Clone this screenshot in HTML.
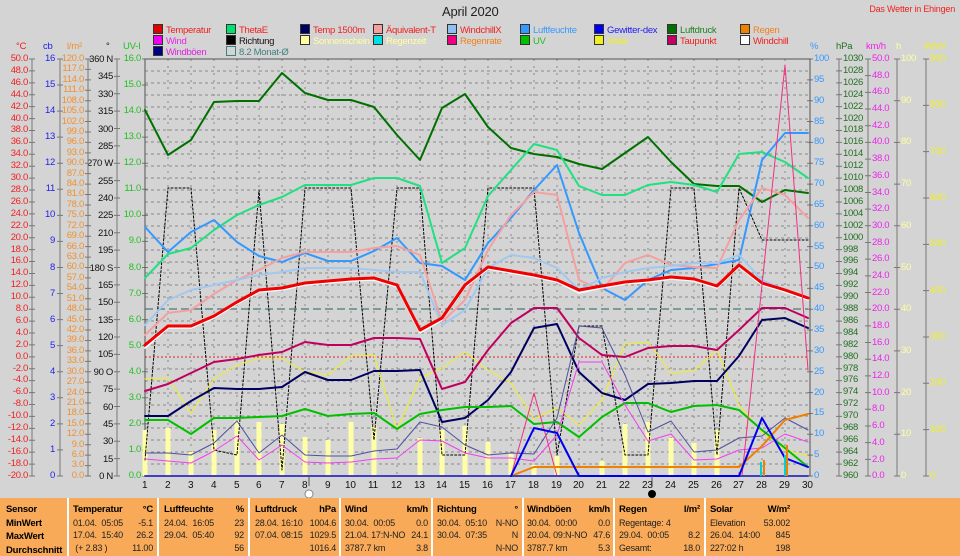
<!DOCTYPE html>
<html><head><meta charset="utf-8"><style>
html,body{margin:0;width:960px;height:556px;overflow:hidden}
body{background:#d4d4d4;position:relative;font-family:"Liberation Sans",sans-serif;}
.c{position:absolute;font-size:9.5px;letter-spacing:-0.3px;white-space:pre;}
.r{text-align:right;}
.t{position:absolute;font-size:9.5px;letter-spacing:-0.2px;white-space:nowrap}
.lg{position:absolute;font-size:9.5px;letter-spacing:-0.3px;white-space:nowrap}
.lg i{display:inline-block;width:8px;height:8px;border:1px solid #333;margin-right:3px;vertical-align:-1px}
.tb{position:absolute;left:0;top:498px;width:960px;height:58px;background:#f8aa58;}
.col{position:absolute;top:503px;font-size:9px;letter-spacing:-0.2px;line-height:12.6px;color:#222;white-space:nowrap}
.col b{color:#000;font-size:9.5px}
.col span{float:right}
.sep{position:absolute;top:498px;width:2px;height:58px;background:#fff}
</style></head><body>
<div class="t" style="left:442px;top:4px;font-size:13px;color:#222">April 2020</div>
<div class="t" style="right:5px;top:4px;font-size:9px;color:#f02020">Das Wetter in Ehingen</div>

<div class="lg" style="left:153px;top:24px;color:#f02020"><i style="background:#e00000"></i>Temperatur</div>
<div class="lg" style="left:153px;top:35px;color:#f020f0"><i style="background:#f000f0"></i>Wind</div>
<div class="lg" style="left:153px;top:46px;color:#e020e0"><i style="background:#000080"></i>Windböen</div>
<div class="lg" style="left:226px;top:24px;color:#f02020"><i style="background:#00e070"></i>ThetaE</div>
<div class="lg" style="left:226px;top:35px;color:#111"><i style="background:#000"></i>Richtung</div>
<div class="lg" style="left:226px;top:46px;color:#408080"><i style="background:none;border-color:#408080"></i>8.2 Monat-Ø</div>
<div class="lg" style="left:300px;top:24px;color:#f02020"><i style="background:#000060"></i>Temp 1500m</div>
<div class="lg" style="left:300px;top:35px;color:#ffffa0"><i style="background:#ffffa0"></i>Sonnenschein</div>
<div class="lg" style="left:373px;top:24px;color:#f02020"><i style="background:#f4a0a0"></i>Äquivalent-T</div>
<div class="lg" style="left:373px;top:35px;color:#ffffa0"><i style="background:#00e0e0"></i>Regenzeit</div>
<div class="lg" style="left:447px;top:24px;color:#f02020"><i style="background:#90c0f0"></i>WindchillX</div>
<div class="lg" style="left:447px;top:35px;color:#f08020"><i style="background:#f00080"></i>Regenrate</div>
<div class="lg" style="left:520px;top:24px;color:#3399ff"><i style="background:#3399ff"></i>Luftfeuchte</div>
<div class="lg" style="left:520px;top:35px;color:#20c020"><i style="background:#00c000"></i>UV</div>
<div class="lg" style="left:594px;top:24px;color:#2020f0"><i style="background:#0000f0"></i>Gewitter-dex</div>
<div class="lg" style="left:594px;top:35px;color:#f0f020"><i style="background:#f0f020"></i>Solar</div>
<div class="lg" style="left:667px;top:24px;color:#208020"><i style="background:#007000"></i>Luftdruck</div>
<div class="lg" style="left:667px;top:35px;color:#f02020"><i style="background:#c00060"></i>Taupunkt</div>
<div class="lg" style="left:740px;top:24px;color:#f08020"><i style="background:#f08000"></i>Regen</div>
<div class="lg" style="left:740px;top:35px;color:#f02020"><i style="background:#fff"></i>Windchill</div>

<div class="t" style="left:16px;top:41px;color:#f02020">°C</div>
<div class="t" style="left:43px;top:41px;color:#2020f0">cb</div>
<div class="t" style="left:67px;top:41px;color:#f09030">l/m²</div>
<div class="t" style="left:106px;top:41px;color:#111">°</div>
<div class="t" style="left:123px;top:41px;color:#20c020">UV-I</div>
<div class="t" style="left:810px;top:41px;color:#3399ff">%</div>
<div class="t" style="left:836px;top:41px;color:#207020">hPa</div>
<div class="t" style="left:866px;top:41px;color:#f020f0">km/h</div>
<div class="t" style="left:896px;top:41px;color:#ffffa0">h</div>
<div class="t" style="left:924px;top:41px;color:#f0f020">W/m²</div>

<div class="c r" style="right:932px;top:53px;line-height:11.914px;color:#f02020">50.0
48.0
46.0
44.0
42.0
40.0
38.0
36.0
34.0
32.0
30.0
28.0
26.0
24.0
22.0
20.0
18.0
16.0
14.0
12.0
10.0
8.0
6.0
4.0
2.0
0.0
-2.0
-4.0
-6.0
-8.0
-10.0
-12.0
-14.0
-16.0
-18.0
-20.0</div>
<div class="c r" style="right:905px;top:46px;line-height:26.06px;color:#2020f0">16
15
14
13
12
11
10
9
8
7
6
5
4
3
2
1
0</div>
<div class="c r" style="right:876px;top:54px;line-height:10.425px;color:#f09030">120.0
117.0
114.0
111.0
108.0
105.0
102.0
99.0
96.0
93.0
90.0
87.0
84.0
81.0
78.0
75.0
72.0
69.0
66.0
63.0
60.0
57.0
54.0
51.0
48.0
45.0
42.0
39.0
36.0
33.0
30.0
27.0
24.0
21.0
18.0
15.0
12.0
9.0
6.0
3.0
0.0</div>
<div class="c r" style="right:847px;top:51px;line-height:17.375px;color:#111">360 N
345
330
315
300
285
270 W
255
240
225
210
195
180 S
165
150
135
120
105
90 O
75
60
45
30
15
0 N</div>
<div class="c r" style="right:819px;top:46px;line-height:26.06px;color:#20c020">16.0
15.0
14.0
13.0
12.0
11.0
10.0
9.0
8.0
7.0
6.0
5.0
4.0
3.0
2.0
1.0
0.0</div>
<div class="c" style="left:814px;top:49px;line-height:20.85px;color:#3399ff">100
95
90
85
80
75
70
65
60
55
50
45
40
35
30
25
20
15
10
5
0</div>
<div class="c" style="left:843px;top:53px;line-height:11.914px;color:#207020">1030
1028
1026
1024
1022
1020
1018
1016
1014
1012
1010
1008
1006
1004
1002
1000
998
996
994
992
990
988
986
984
982
980
978
976
974
972
970
968
966
964
962
960</div>
<div class="c" style="left:872px;top:51px;line-height:16.68px;color:#f020f0">50.0
48.0
46.0
44.0
42.0
40.0
38.0
36.0
34.0
32.0
30.0
28.0
26.0
24.0
22.0
20.0
18.0
16.0
14.0
12.0
10.0
8.0
6.0
4.0
2.0
0.0</div>
<div class="c" style="left:901px;top:38px;line-height:41.7px;color:#ffffa0">100
90
80
70
60
50
40
30
20
10
0</div>
<div class="c" style="left:930px;top:36px;line-height:46.33px;color:#f0f020">900
800
700
600
500
400
300
200
100
0</div>

<svg width="960" height="556" style="position:absolute;left:0;top:0" fill="none">
<g stroke="#777" stroke-width="1">
<line x1="32" y1="59" x2="32" y2="476"/><line x1="60" y1="59" x2="60" y2="476"/><line x1="88" y1="59" x2="88" y2="476"/><line x1="117" y1="59" x2="117" y2="476"/>
<line x1="839" y1="59" x2="839" y2="476"/><line x1="868" y1="59" x2="868" y2="476"/><line x1="897" y1="59" x2="897" y2="476"/><line x1="926" y1="59" x2="926" y2="476"/>
</g>
<g stroke="#777" stroke-width="6">
<line x1="32" y1="58.5" x2="32" y2="477" stroke-dasharray="1 10.914"/>
<line x1="60" y1="58.5" x2="60" y2="477" stroke-dasharray="1 25.06"/>
<line x1="88" y1="58.5" x2="88" y2="477" stroke-dasharray="1 9.425"/>
<line x1="117" y1="58.5" x2="117" y2="477" stroke-dasharray="1 16.375"/>
<line x1="145" y1="58.5" x2="145" y2="477" stroke-dasharray="1 25.06"/>
<line x1="810" y1="58.5" x2="810" y2="477" stroke-dasharray="1 19.85"/>
<line x1="839" y1="58.5" x2="839" y2="477" stroke-dasharray="1 10.914"/>
<line x1="868" y1="58.5" x2="868" y2="477" stroke-dasharray="1 15.68"/>
<line x1="897" y1="58.5" x2="897" y2="477" stroke-dasharray="1 40.7"/>
<line x1="926" y1="58.5" x2="926" y2="477" stroke-dasharray="1 45.33"/>
</g>
<g stroke="#888" stroke-width="1" stroke-dasharray="3 3">
<path d="M145 71H808M145 83H808M145 95H808M145 107H808M145 119H808M145 130H808M145 142H808M145 154H808M145 166H808M145 178H808M145 190H808M145 202H808M145 214H808M145 226H808M145 238H808M145 250H808M145 262H808M145 273H808M145 285H808M145 297H808M145 321H808M145 333H808M145 345H808M145 369H808M145 381H808M145 393H808M145 405H808M145 416H808M145 428H808M145 440H808M145 452H808M145 464H808"/>
<path d="M168 59V476M191 59V476M214 59V476M237 59V476M259 59V476M282 59V476M305 59V476M328 59V476M351 59V476M374 59V476M397 59V476M420 59V476M442 59V476M465 59V476M488 59V476M511 59V476M534 59V476M557 59V476M579 59V476M602 59V476M625 59V476M648 59V476M671 59V476M694 59V476M717 59V476M739 59V476M762 59V476M785 59V476" stroke-dasharray="2 5"/>
</g>
<line x1="145" y1="309" x2="808" y2="309" stroke="#608888" stroke-width="1.5" stroke-dasharray="8 4"/>
<line x1="145" y1="357" x2="808" y2="357" stroke="#e02020" stroke-width="1" stroke-dasharray="2 2"/>
<rect x="145" y="59" width="665" height="417" stroke="#555" stroke-width="1"/>
<g stroke="#ffffa8" stroke-width="5">
<path d="M145 430V476M168 428V476M191 452V476M214 430V476M237 421V476M259 422V476M282 424V476M305 437V476M328 440V476M351 422V476M374 425V476M420 438V476M442 430V476M465 426V476M488 442V476M511 453V476M534 465V476M557 456V476M602 461V476M625 424V476M648 422V476M671 438V476M694 443V476M717 430V476"/>
</g>
<g stroke-linejoin="round" stroke-linecap="round">
<polyline stroke="#000" stroke-width="1" stroke-dasharray="2 2" points="145,460 168,188 191,188 214,450 237,455 259,190 282,470 305,188 328,188 351,188 374,440 397,188 420,188 442,455 465,455 488,188 511,188 534,188 557,455 579,326 602,326 625,455 648,455 671,188 694,188 717,455 739,188 762,240 808,240"/>
<polyline stroke="#007000" stroke-width="2" points="145,110 168,155 191,140 214,102 237,101 259,101 282,73 305,93 328,100 351,100 374,107 397,135 420,160 442,108 465,94 488,127 511,148 534,154 557,157 579,164 602,169 625,153 648,137 671,162 694,184 717,186 739,186 762,202 785,190 808,193"/>
<polyline stroke="#20e080" stroke-width="2" points="145,278 168,254 191,248 214,230 237,215 259,205 282,197 305,185 328,185 351,185 374,178 397,178 420,186 442,263 465,248 488,196 511,170 534,144 557,150 579,186 602,195 625,195 648,185 671,182 694,185 717,192 739,154 762,152 785,162 808,178"/>
<polyline stroke="#3399ff" stroke-width="2" points="145,227 168,252 191,232 214,220 237,242 259,256 282,262 305,253 328,261 351,261 374,251 397,238 420,263 442,266 465,280 488,243 511,218 534,190 557,165 579,233 602,288 625,300 648,280 671,270 694,268 717,264 739,260 762,160 785,133 808,133"/>
<polyline stroke="#f4a0a0" stroke-width="2" points="145,335 168,313 191,310 214,294 237,280 259,270 282,258 305,252 328,252 351,252 374,248 397,246 420,255 442,322 465,300 488,250 511,215 534,192 557,195 579,280 602,290 625,263 648,255 671,265 694,267 717,268 739,220 762,188 785,195 808,218"/>
<polyline stroke="#a0c8f0" stroke-width="2" points="145,325 168,300 191,290 214,285 237,280 259,275 282,272 305,268 328,268 351,268 374,270 397,272 420,272 442,325 465,310 488,268 511,255 534,258 557,268 579,290 602,278 625,272 648,268 671,266 694,263 717,263 739,255 762,280 785,290 808,298"/>
<polyline stroke="#ffffff" stroke-width="1.5" points="145,348 168,328 191,328 214,318 237,304 259,292 282,290 305,285 328,283 351,281 374,280 397,287 420,333 442,320 465,287 488,269 511,273 534,277 557,282 579,293 602,288 625,284 648,282 671,279 694,281 717,288 739,267 762,285 785,292 808,300"/>
<polyline stroke="#f00000" stroke-width="3" points="145,345 168,326 191,326 214,316 237,302 259,290 282,288 305,283 328,281 351,279 374,278 397,285 420,330 442,318 465,285 488,267 511,271 534,275 557,280 579,290 602,286 625,282 648,280 671,277 694,279 717,286 739,265 762,283 785,290 808,298"/>
<polyline stroke="#f0f020" stroke-width="1" points="145,379 168,378 191,413 214,379 237,365 259,358 282,358 305,372 328,375 351,356 374,355 397,430 420,378 442,368 465,352 488,370 511,383 534,419 557,408 579,425 602,400 625,344 648,342 671,373 694,371 717,350 739,405 762,432 785,450 808,456"/>
<polyline stroke="#c00060" stroke-width="2" points="145,391 168,384 191,373 214,362 237,359 259,355 282,352 305,342 328,345 351,345 374,338 397,338 420,339 442,389 465,382 488,350 511,323 534,308 557,308 579,338 602,355 625,357 648,348 671,346 694,346 717,350 739,330 762,308 785,308 808,318"/>
<polyline stroke="#000060" stroke-width="2" points="145,416 168,416 191,401 214,388 237,389 259,389 282,387 305,372 328,380 351,380 374,371 397,371 420,370 442,422 465,418 488,400 511,372 534,328 557,324 579,372 602,393 625,400 648,384 671,383 694,381 717,381 739,356 762,320 785,318 808,328"/>
<polyline stroke="#00c000" stroke-width="2" points="145,420 168,420 191,434 214,418 237,418 259,417 282,416 305,409 328,416 351,414 374,413 397,429 420,414 442,410 465,407 488,407 511,406 534,424 557,422 579,437 602,417 625,403 648,403 671,412 694,406 717,405 739,410 762,430 785,448 808,467"/>
<polyline stroke="#5050a0" stroke-width="1" points="145,453 168,453 191,455 214,443 237,421 259,453 282,435 305,455 328,456 351,456 374,451 397,449 420,422 442,427 465,445 488,455 511,453 534,454 557,418 579,326 602,328 625,375 648,432 671,421 694,452 717,450 739,438 762,436 785,418 808,430"/>
<polyline stroke="#f040f0" stroke-width="1" points="145,459 168,461 191,463 214,451 237,436 259,460 282,445 305,462 328,463 351,462 374,459 397,458 420,440 442,441 465,453 488,458 511,458 534,461 557,435 579,362 602,362 625,405 648,441 671,434 694,460 717,459 739,450 762,448 785,434 808,442"/>
<polyline stroke="#f03080" stroke-width="1" points="511,476 534,393 557,476"/>
<polyline stroke="#f03080" stroke-width="1" points="742,476 785,65 808,370"/>
<polyline stroke="#f08000" stroke-width="2" points="511,476 534,467 739,467 762,446 785,420 808,414"/>
<line x1="145" y1="476" x2="808" y2="476" stroke="#4040c0" stroke-width="2"/>
<polyline stroke="#0000f0" stroke-width="2" points="511,476 534,428 557,433 579,476 739,476 762,418 785,458 808,467"/>
</g>
<g stroke="#f08000" stroke-width="2"><path d="M764 476V460M787 476V445"/></g>
<g stroke="#00d0d0" stroke-width="2"><path d="M761 476V462M785 476V455"/></g>
<circle cx="309" cy="494" r="4" fill="#fff" stroke="#888"/>
<circle cx="652" cy="494" r="4" fill="#000"/>
<g stroke="#555"><path d="M309 476V486M652 476V486"/></g>
</svg>
<div class="t" style="left:0;top:480px;width:960px;height:12px;font-size:10px;color:#111">
<span style="position:absolute;left:142px">1</span><span style="position:absolute;left:165px">2</span><span style="position:absolute;left:188px">3</span><span style="position:absolute;left:211px">4</span><span style="position:absolute;left:234px">5</span><span style="position:absolute;left:256px">6</span><span style="position:absolute;left:279px">7</span><span style="position:absolute;left:302px">8</span><span style="position:absolute;left:325px">9</span><span style="position:absolute;left:345px">10</span><span style="position:absolute;left:368px">11</span><span style="position:absolute;left:391px">12</span><span style="position:absolute;left:414px">13</span><span style="position:absolute;left:436px">14</span><span style="position:absolute;left:459px">15</span><span style="position:absolute;left:482px">16</span><span style="position:absolute;left:505px">17</span><span style="position:absolute;left:528px">18</span><span style="position:absolute;left:551px">19</span><span style="position:absolute;left:573px">20</span><span style="position:absolute;left:596px">21</span><span style="position:absolute;left:619px">22</span><span style="position:absolute;left:642px">23</span><span style="position:absolute;left:665px">24</span><span style="position:absolute;left:688px">25</span><span style="position:absolute;left:711px">26</span><span style="position:absolute;left:733px">27</span><span style="position:absolute;left:756px">28</span><span style="position:absolute;left:779px">29</span><span style="position:absolute;left:802px">30</span>
</div>

<div class="tb"></div>
<div class="sep" style="left:67px"></div><div class="sep" style="left:157px"></div><div class="sep" style="left:248px"></div><div class="sep" style="left:339px"></div><div class="sep" style="left:431px"></div><div class="sep" style="left:522px"></div><div class="sep" style="left:613px"></div><div class="sep" style="left:704px"></div>
<div class="col" style="left:6px"><b>Sensor<br>MinWert<br>MaxWert<br>Durchschnitt</b></div>
<div class="col" style="left:73px;width:80px"><b>Temperatur</b><span><b>°C</b></span><br>01.04.&nbsp; 05:05<span>-5.1</span><br>17.04.&nbsp; 15:40<span>26.2</span><br>&nbsp;(+ 2.83 )<span>11.00</span></div>
<div class="col" style="left:164px;width:80px"><b>Luftfeuchte</b><span><b>%</b></span><br>24.04.&nbsp; 16:05<span>23</span><br>29.04.&nbsp; 05:40<span>92</span><br>&nbsp;<span>56</span></div>
<div class="col" style="left:255px;width:81px"><b>Luftdruck</b><span><b>hPa</b></span><br>28.04.&nbsp;16:10<span>1004.6</span><br>07.04.&nbsp;08:15<span>1029.5</span><br>&nbsp;<span>1016.4</span></div>
<div class="col" style="left:345px;width:83px"><b>Wind</b><span><b>km/h</b></span><br>30.04.&nbsp; 00:05<span>0.0</span><br>21.04. 17:N-NO<span>24.1</span><br>3787.7 km<span>3.8</span></div>
<div class="col" style="left:437px;width:81px"><b>Richtung</b><span><b>°</b></span><br>30.04.&nbsp; 05:10<span>N-NO</span><br>30.04.&nbsp; 07:35<span>N</span><br>&nbsp;<span>N-NO</span></div>
<div class="col" style="left:527px;width:83px"><b>Windböen</b><span><b>km/h</b></span><br>30.04.&nbsp; 00:00<span>0.0</span><br>20.04. 09:N-NO<span>47.6</span><br>3787.7 km<span>5.3</span></div>
<div class="col" style="left:619px;width:81px"><b>Regen</b><span><b>l/m²</b></span><br>Regentage: 4<br>29.04.&nbsp; 00:05<span>8.2</span><br>Gesamt:<span>18.0</span></div>
<div class="col" style="left:710px;width:80px"><b>Solar</b><span><b>W/m²</b></span><br>Elevation<span>53.002</span><br>26.04.&nbsp; 14:00<span>845</span><br>227:02 h<span>198</span></div>
</body></html>
